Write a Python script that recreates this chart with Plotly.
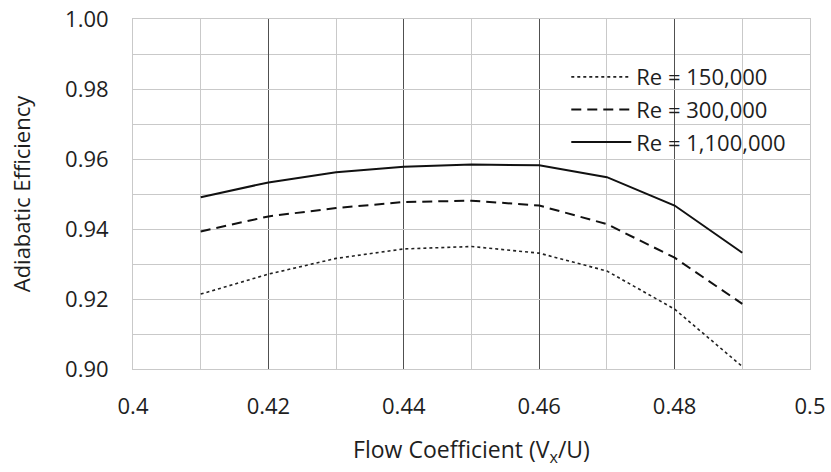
import plotly.graph_objects as go

flow = [0.41, 0.42, 0.43, 0.44, 0.45, 0.46, 0.47, 0.48, 0.49]
eff_150k = [0.9214, 0.9271, 0.9316, 0.9343, 0.9350, 0.9331, 0.9280, 0.9171, 0.9007]
eff_300k = [0.9393, 0.9436, 0.9460, 0.9477, 0.9481, 0.9467, 0.9414, 0.9318, 0.9186]
eff_1100k = [0.9491, 0.9533, 0.9562, 0.9578, 0.9584, 0.9582, 0.9548, 0.9467, 0.9332]
series_names = ["Re = 150,000", "Re = 300,000", "Re = 1,100,000"]

x_tickvals = [0.40, 0.42, 0.44, 0.46, 0.48, 0.50]
x_ticktext = ["0.4", "0.42", "0.44", "0.46", "0.48", "0.5"]
y_tickvals = [0.90, 0.92, 0.94, 0.96, 0.98, 1.00]
y_ticktext = ["0.90", "0.92", "0.94", "0.96", "0.98", "1.00"]

FONT = "Open Sans"
TXT = "#1e1e1e"
LIGHT = "#c9c9c9"
DARK = "#505050"

fig = go.Figure()
styles = [
    dict(color="#222222", width=1.6, dash="dot"),
    dict(color="#111111", width=2, dash="10px,6px"),
    dict(color="#111111", width=2, dash="solid"),
]
for name, ys, st, g in zip(series_names, [eff_150k, eff_300k, eff_1100k], styles, ["a", "b", "c"]):
    fig.add_trace(go.Scatter(x=flow, y=ys, mode="lines", name=name, line=st, legendgroup=g))

fig.update_layout(
    width=831, height=472,
    margin=dict(l=133, r=21, t=19, b=103, autoexpand=False),
    paper_bgcolor="white", plot_bgcolor="white",
    font=dict(family=FONT, color=TXT),
    showlegend=True,
    legend=dict(x=0.64, y=0.894, xanchor="left", yanchor="top",
                bgcolor="rgba(0,0,0,0)", font=dict(size=22, family=FONT, color=TXT),
                tracegroupgap=1, itemwidth=60),
)
fig.update_xaxes(
    range=[0.40, 0.50], tickvals=x_tickvals, ticktext=x_ticktext, automargin=False,
    tickfont=dict(size=22), ticks="", ticklen=0, ticklabelstandoff=18,
    showgrid=True, gridcolor=DARK, gridwidth=1,
    minor=dict(dtick=0.01, tick0=0.40, showgrid=True, gridcolor=LIGHT, gridwidth=1),
    showline=True, linecolor=LIGHT, linewidth=1, mirror=True,
    zeroline=False,
    title=dict(text="Flow Coefficient (V<sub>x</sub>/U)", font=dict(size=23), standoff=22),
)
fig.update_yaxes(
    range=[0.90, 1.00], tickvals=y_tickvals, ticktext=y_ticktext, automargin=False,
    tickfont=dict(size=22), ticks="", ticklen=0, ticklabelstandoff=19,
    showgrid=True, gridcolor=LIGHT, gridwidth=1,
    minor=dict(dtick=0.01, tick0=0.90, showgrid=True, gridcolor=LIGHT, gridwidth=1),
    showline=True, linecolor=LIGHT, linewidth=1, mirror=True,
    zeroline=False,
    title=dict(text="Adiabatic Efficiency", font=dict(size=22), standoff=28),
)

fig.write_html("out.html")
